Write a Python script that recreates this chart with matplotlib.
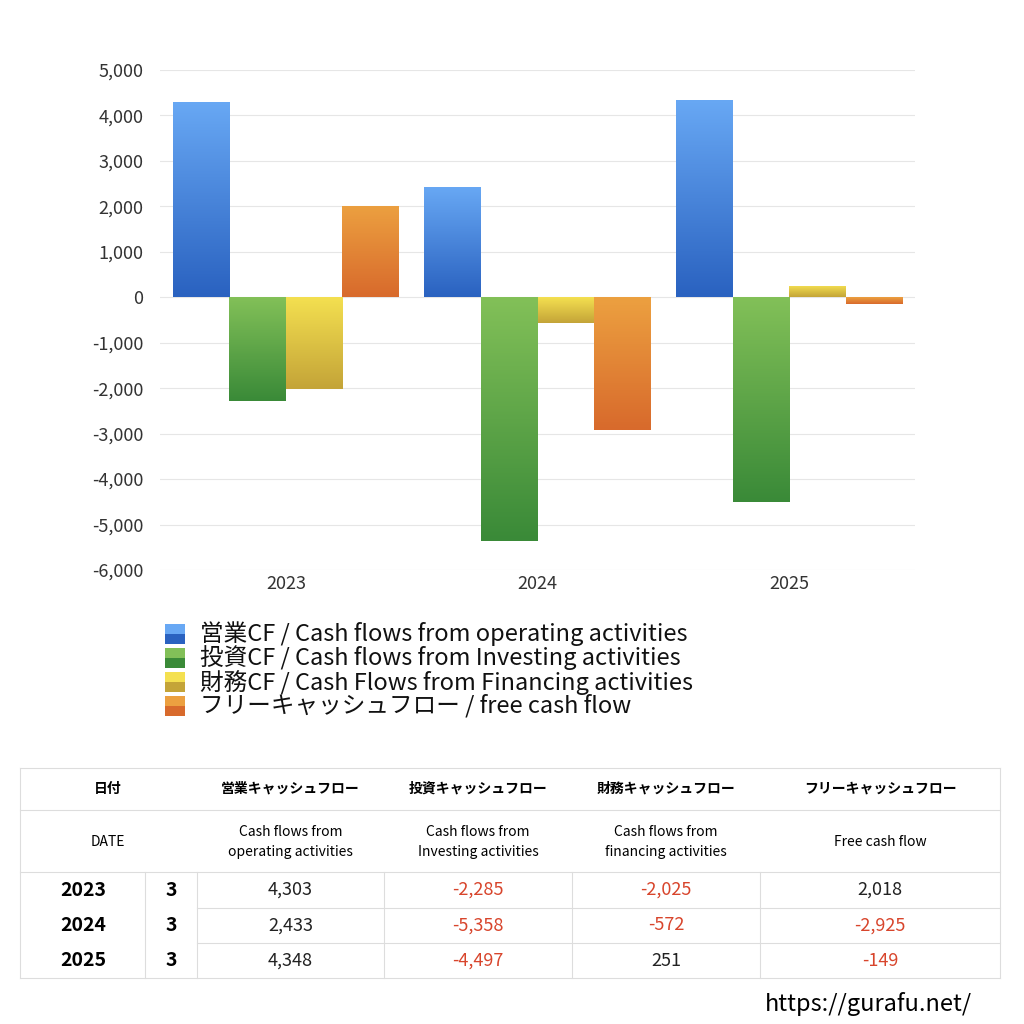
import numpy as np
import matplotlib
matplotlib.use("Agg")
import matplotlib.pyplot as plt
from matplotlib.colors import LinearSegmentedColormap
from matplotlib.patches import Rectangle

plt.rcParams["font.family"] = ["Noto Sans CJK JP", "DejaVu Sans"]

years = ["2023", "2024", "2025"]
months = ["3", "3", "3"]
operating = [4303, 2433, 4348]
investing = [-2285, -5358, -4497]
financing = [-2025, -572, 251]
free_cf = [2018, -2925, -149]

series = [operating, investing, financing, free_cf]
legend_labels = [
    "営業CF / Cash flows from operating activities",
    "投資CF / Cash flows from Investing activities",
    "財務CF / Cash Flows from Financing activities",
    "フリーキャッシュフロー / free cash flow",
]
# (top color, bottom color)
grads = [("#68a8f4", "#2a62c0"), ("#82c058", "#3a8a38"),
         ("#f4e050", "#c4a438"), ("#eca040", "#d86a2c")]

W = H = 1024
fig = plt.figure(figsize=(10.24, 10.24), dpi=100)
ax = fig.add_axes([160 / W, 1 - 570 / H, 755 / W, 500 / H])

n = len(years)
bw = 0.225
x = np.arange(n)
for i, (vals, (c1, c2)) in enumerate(zip(series, grads)):
    cmap = LinearSegmentedColormap.from_list("g", [c2, c1])
    for xi, v in zip(x, vals):
        left = xi - 2 * bw + i * bw
        bar = ax.bar(left, v, width=bw, align="edge", color=c2, zorder=2)[0]
        lo, hi = min(0, v), max(0, v)
        im = ax.imshow(np.linspace(0, 1, 100).reshape(-1, 1), cmap=cmap,
                       extent=[left, left + bw, lo, hi], origin="lower",
                       aspect="auto", zorder=3)
        im.set_clip_path(bar)

ax.set_xlim(-0.5, n - 0.5)
ax.set_ylim(-6000, 5000)
ax.set_yticks(np.arange(-6000, 5001, 1000))
ax.set_yticklabels([f"{v:,}" for v in range(-6000, 5001, 1000)])
ax.set_xticks(x)
ax.set_xticklabels(years)
ax.grid(True, axis="y", color="#e6e6e6", linewidth=0.8, zorder=0)
for s in ax.spines.values():
    s.set_visible(False)
ax.tick_params(length=0, labelsize=13, colors="#333333")
ax.tick_params(axis="y", pad=12)

# legend
for i, (lab, (c1, c2)) in enumerate(zip(legend_labels, grads)):
    y = 634 + i * 24
    fig.add_artist(Rectangle((165 / W, 1 - (y + 10) / H), 20 / W, 20 / H,
                             facecolor=c2, transform=fig.transFigure))
    fig.add_artist(Rectangle((165 / W, 1 - y / H), 20 / W, 10 / H,
                             facecolor=c1, transform=fig.transFigure))
    fig.text(200 / W, 1 - y / H, lab, fontsize=17, va="center", color="#111111")

# table
def fx(px):
    return px / W

def fy(py):
    return 1 - py / H

line_kw = dict(color="#dddddd", linewidth=0.8, transform=fig.transFigure)
cols = [20, 145, 197, 384, 572, 760, 1000]
for yy in [768, 810, 872, 978]:
    fig.add_artist(plt.Line2D([fx(20), fx(1000)], [fy(yy)] * 2, **line_kw))
for yy in [908, 943]:
    fig.add_artist(plt.Line2D([fx(197), fx(1000)], [fy(yy)] * 2, **line_kw))
for xx in [20, 1000]:
    fig.add_artist(plt.Line2D([fx(xx)] * 2, [fy(768), fy(978)], **line_kw))
for xx in cols[1:-1]:
    fig.add_artist(plt.Line2D([fx(xx)] * 2, [fy(872), fy(978)], **line_kw))

hdr_jp = ["営業キャッシュフロー", "投資キャッシュフロー", "財務キャッシュフロー", "フリーキャッシュフロー"]
hdr_en = ["Cash flows from\noperating activities", "Cash flows from\nInvesting activities",
          "Cash flows from\nfinancing activities", "Free cash flow"]
fig.text(fx(108), fy(789), "日付", ha="center", va="center", fontsize=10, fontweight="bold")
fig.text(fx(108), fy(842), "DATE", ha="center", va="center", fontsize=10)
for j in range(4):
    cx = fx((cols[j + 2] + cols[j + 3]) / 2)
    fig.text(cx, fy(789), hdr_jp[j], ha="center", va="center", fontsize=10, fontweight="bold")
    fig.text(cx, fy(842), hdr_en[j], ha="center", va="center", fontsize=10, linespacing=1.5)

for r, yr in enumerate(years):
    cy = fy(890 + r * 35.5)
    fig.text(fx(83), cy, yr, ha="center", va="center", fontsize=14, fontweight="bold")
    fig.text(fx(171), cy, months[r], ha="center", va="center", fontsize=14, fontweight="bold")
    for j, vals in enumerate(series):
        v = vals[r]
        fig.text(fx((cols[j + 2] + cols[j + 3]) / 2), cy, f"{v:,}", ha="center",
                 va="center", fontsize=13, color="#d8452c" if v < 0 else "#222222")

fig.text(fx(972), fy(1004), "https://gurafu.net/", ha="right", va="center", fontsize=17)

fig.savefig("out.png", dpi=100, facecolor="white")
